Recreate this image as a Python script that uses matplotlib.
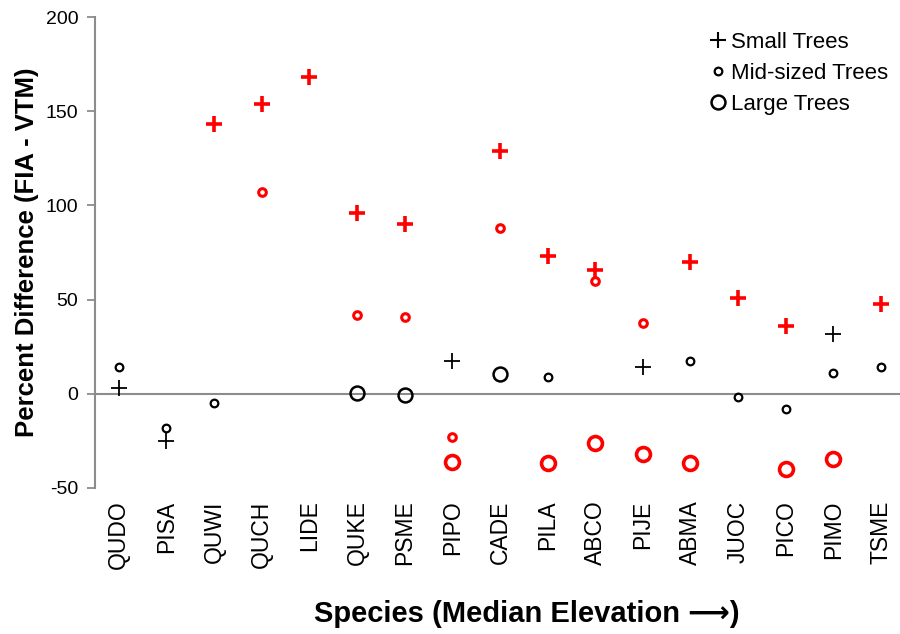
import matplotlib
matplotlib.use("Agg")
import matplotlib.pyplot as plt
from matplotlib.lines import Line2D
import numpy as np

plt.rcParams["font.family"] = ["Liberation Sans", "DejaVu Sans"]
plt.rcParams["axes.unicode_minus"] = False

species = ["QUDO", "PISA", "QUWI", "QUCH", "LIDE", "QUKE", "PSME", "PIPO", "CADE",
           "PILA", "ABCO", "PIJE", "ABMA", "JUOC", "PICO", "PIMO", "TSME"]

nan = np.nan
# percent difference (FIA - VTM) by size class
small = [3, -25, 143, 154, 168, 96, 90, 17.5, 129, 73, 66, 14, 70, 51, 36, 32, 47.5]
mid = [14, -18, -5, 107, nan, 42, 41, -23, 88, 9, 60, 37.5, 17.5, -1.5, -8, 11, 14]
large = [nan, nan, nan, nan, nan, 0.6, -0.6, -36, 10.6, -36.5, -26, -32, -36.5, nan, -40, -34.5, nan]

# significant differences drawn in red
small_sig = [0, 0, 1, 1, 1, 1, 1, 0, 1, 1, 1, 0, 1, 1, 1, 0, 1]
mid_sig = [0, 0, 0, 1, 0, 1, 1, 1, 1, 0, 1, 1, 0, 0, 0, 0, 0]
large_sig = [0, 0, 0, 0, 0, 0, 0, 1, 0, 1, 1, 1, 1, 0, 1, 1, 0]

fig = plt.figure(figsize=(9, 6.34), dpi=100)
ax = fig.add_axes([0.1056, 0.2303, 0.8944, 0.7427])

x = np.arange(len(species))
grey = "#8c8c8c"
red = "#ff0000"

ax.axhline(0, color=grey, lw=1.5, zorder=1)

styles = [
    (small, small_sig, dict(marker="+", ms=11), 1.3, 2.6),
    (mid, mid_sig, dict(marker="o", ms=5.5, mfc="none"), 1.6, 2.2),
    (large, large_sig, dict(marker="o", ms=10, mfc="none"), 1.8, 2.6),
]
for vals, sig, kw, lw_black, lw_red in styles:
    vals = np.array(vals, dtype=float)
    sig = np.array(sig, dtype=bool)
    ax.plot(x[~sig], vals[~sig], ls="none", mec="black", mew=lw_black, zorder=3, **kw)
    ax.plot(x[sig], vals[sig], ls="none", mec=red, mew=lw_red, zorder=3, **kw)

ax.set_xlim(-0.5, 16.4)
ax.set_ylim(-50, 200)
ax.set_yticks([-50, 0, 50, 100, 150, 200])
ax.set_xticks(x)
ax.set_xticklabels(species, rotation=90, fontsize=16.5)
ax.tick_params(axis="x", length=0, pad=9)
ax.tick_params(axis="y", labelsize=14, length=6, width=1.3, color=grey, pad=6)

for s in ["top", "right", "bottom"]:
    ax.spines[s].set_visible(False)
ax.spines["left"].set_color(grey)
ax.spines["left"].set_linewidth(1.5)

ax.set_ylabel("Percent Difference (FIA - VTM)", fontsize=18.5, fontweight="bold", labelpad=5)
fig.text(0.585, 0.031, "Species (Median Elevation \u27f6)", fontsize=21, fontweight="bold",
         ha="center", va="center")

handles = [
    Line2D([], [], ls="none", marker="+", ms=12, mec="black", mew=1.5),
    Line2D([], [], ls="none", marker="o", ms=5.5, mfc="none", mec="black", mew=1.6),
    Line2D([], [], ls="none", marker="o", ms=10, mfc="none", mec="black", mew=1.8),
]
ax.legend(handles, ["Small Trees", "Mid-sized Trees", "Large Trees"],
          loc="upper left", bbox_to_anchor=(0.776, 0.967), bbox_transform=fig.transFigure,
          frameon=False, fontsize=16, handlelength=0.8, handletextpad=0.15,
          labelspacing=0.45, borderpad=0)

fig.savefig("out.png", dpi=100)
